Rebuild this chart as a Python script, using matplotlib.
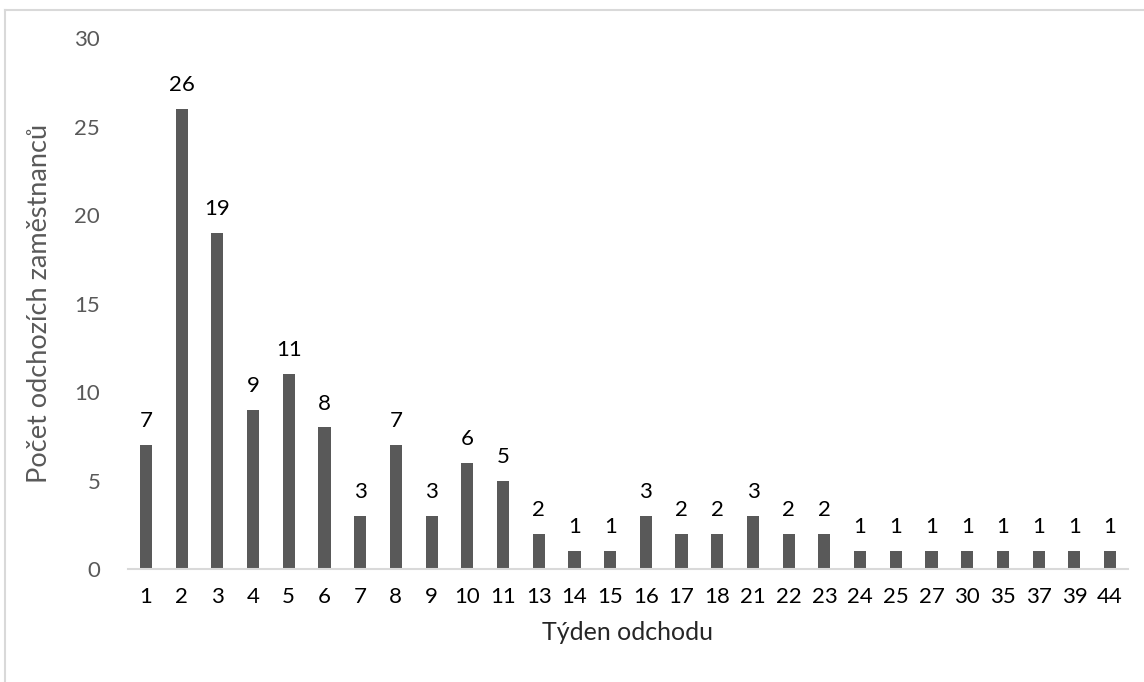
import matplotlib.pyplot as plt
from matplotlib.lines import Line2D

# odchody zaměstnanců podle týdne
tydny = ['1', '2', '3', '4', '5', '6', '7', '8', '9', '10', '11', '13', '14', '15',
         '16', '17', '18', '21', '22', '23', '24', '25', '27', '30', '35', '37', '39', '44']
pocty = [7, 26, 19, 9, 11, 8, 3, 7, 3, 6, 5, 2, 1, 1,
         3, 2, 2, 3, 2, 2, 1, 1, 1, 1, 1, 1, 1, 1]

plt.rcParams['font.family'] = ['Lato', 'DejaVu Sans']

fig = plt.figure(figsize=(11.44, 6.82), dpi=100)
ax = fig.add_axes([0.1119, 0.1657, 0.8741, 0.7783])

x = range(len(tydny))
bars = ax.bar(x, pocty, width=0.34, color='#595959')
for b, v in zip(bars, pocty):
    ax.annotate(str(v), (b.get_x() + b.get_width() / 2, v), xytext=(0, 10),
                textcoords='offset points', ha='center', va='bottom',
                fontsize=16, color='black')

ax.set_xlim(-0.5, len(tydny) - 0.5)
ax.set_ylim(0, 30)
ax.set_xticks(list(x))
ax.set_xticklabels(tydny)
ax.set_yticks(range(0, 31, 5))
ax.tick_params(axis='x', length=0, pad=13, labelsize=16, labelcolor='black')
ax.tick_params(axis='y', length=0, pad=20, labelsize=16, labelcolor='#595959')

for s in ['top', 'right', 'left']:
    ax.spines[s].set_visible(False)
ax.spines['bottom'].set_color('#d9d9d9')
ax.spines['bottom'].set_linewidth(1.5)

ax.set_xlabel('Týden odchodu', fontsize=18, color='#262626', labelpad=10)
ax.set_ylabel('Počet odchozích zaměstnanců', fontsize=19.5, color='#595959', labelpad=16)

# rámeček grafu
fig.add_artist(Line2D([0.0044, 1.0], [0.985, 0.985], color='#d9d9d9', lw=1.5))
fig.add_artist(Line2D([0.0044, 0.0044], [0.0, 0.985], color='#d9d9d9', lw=1.5))

fig.savefig('out.png', dpi=100)
